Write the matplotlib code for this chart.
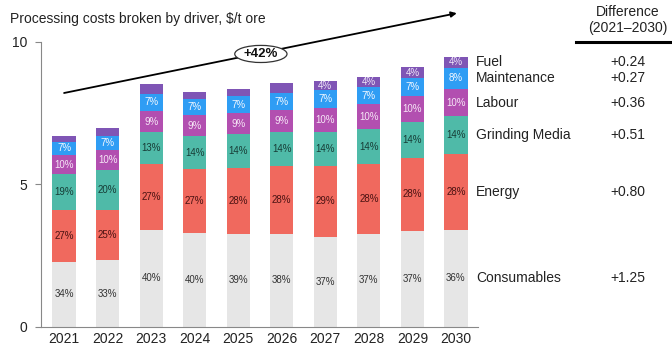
import matplotlib
matplotlib.use("Agg")
import matplotlib.pyplot as plt
from matplotlib.patches import Ellipse
import numpy as np

plt.rcParams['font.family'] = ['Liberation Sans', 'DejaVu Sans']

years = ["2021", "2022", "2023", "2024", "2025", "2026", "2027", "2028", "2029", "2030"]
totals = [6.69, 6.98, 8.52, 8.25, 8.33, 8.54, 8.63, 8.77, 9.10, 9.47]

drivers = ["Consumables", "Energy", "Grinding Media", "Labour", "Maintenance", "Fuel"]
pct_consumables = [34, 33, 40, 40, 39, 38, 37, 37, 37, 36]
pct_energy = [27, 25, 27, 27, 28, 28, 29, 28, 28, 28]
pct_grinding = [19, 20, 13, 14, 14, 14, 14, 14, 14, 14]
pct_labour = [10, 10, 9, 9, 9, 9, 10, 10, 10, 10]
pct_maintenance = [7, 7, 7, 7, 7, 7, 7, 7, 7, 8]
pct_fuel = [3, 4, 4, 3, 3, 4, 4, 4, 4, 4]
fuel_labelled = [False] * 6 + [True] * 4

differences = ["+1.25", "+0.80", "+0.51", "+0.36", "+0.27", "+0.24"]

colors = ["#e6e6e6", "#f0695e", "#4fbaa8", "#b24fb0", "#2f9df4", "#7f55b5"]
label_colors = ["#333333", "#4a1212", "#173c36", "#f6e6f6", "#f4f8ff", "#efe6f8"]

pcts = np.array([pct_consumables, pct_energy, pct_grinding,
                 pct_labour, pct_maintenance, pct_fuel], dtype=float)
heights = pcts / pcts.sum(axis=0) * np.array(totals)

fig = plt.figure(figsize=(6.72, 3.49), dpi=100)
ax = fig.add_axes([41 / 672, 1 - 326.7 / 349, (477.7 - 41) / 672, (326.7 - 13.2) / 349])

x = np.arange(len(years))
bottom = np.zeros(len(years))
for k, name in enumerate(drivers):
    ax.bar(x, heights[k], bottom=bottom, width=0.535, color=colors[k], linewidth=0)
    for i in range(len(years)):
        if k == 5 and not fuel_labelled[i]:
            continue
        ax.text(x[i], bottom[i] + heights[k][i] / 2, f"{int(pcts[k][i])}%",
                ha="center", va="center", fontsize=7, color=label_colors[k])
    # driver name beside the last bar
    ax.text(9.46, bottom[-1] + heights[k][-1] / 2, name, ha="left", va="center",
            fontsize=10, color="#222222", clip_on=False)
    fig.text(628 / 672, 1 - (326.7 - (bottom[-1] + heights[k][-1] / 2) * 28.5) / 349,
             differences[k], ha="center", va="center", fontsize=10, color="#222222")
    bottom += heights[k]

ax.set_xlim(-0.53, 9.5)
ax.set_ylim(0, 11)
ax.set_yticks([0, 5, 10])
ax.set_xticks(x)
ax.set_xticklabels(years)
ax.tick_params(axis="y", direction="out", length=4, color="#888888", labelsize=10,
               labelcolor="#222222", pad=6)
ax.tick_params(axis="x", length=0, labelsize=10, labelcolor="#222222", pad=4)
for s in ["top", "right"]:
    ax.spines[s].set_visible(False)
ax.spines["left"].set_bounds(0, 10)
ax.spines["left"].set_color("#888888")
ax.spines["bottom"].set_color("#888888")
ax.set_facecolor("none")

# growth arrow with label
ax.annotate("", xy=(9.02, 11.0), xytext=(0.0, 8.2),
            arrowprops=dict(arrowstyle="-|>", color="black", lw=1.3,
                            mutation_scale=8, shrinkA=0, shrinkB=0),
            annotation_clip=False)
ax.add_patch(Ellipse((4.52, 9.57), 1.2, 0.6, facecolor="white",
                     edgecolor="#333333", lw=0.9, zorder=5, clip_on=False))
ax.text(4.52, 9.57, "+42%", ha="center", va="center", fontsize=9.5,
        fontweight="bold", color="#111111", zorder=6)

fig.text(10 / 672, 1 - 19 / 349, "Processing costs broken by driver, $/t ore",
         ha="left", va="center", fontsize=10, color="#222222")
fig.text(628 / 672, 1 - 20 / 349, "Difference\n(2021\u20132030)", ha="center",
         va="center", fontsize=10, color="#222222", linespacing=1.15)
fig.add_artist(plt.Line2D([576 / 672, 1.0], [1 - 42 / 349, 1 - 42 / 349],
                          color="black", lw=2.2))

fig.savefig("out.png", dpi=100)
